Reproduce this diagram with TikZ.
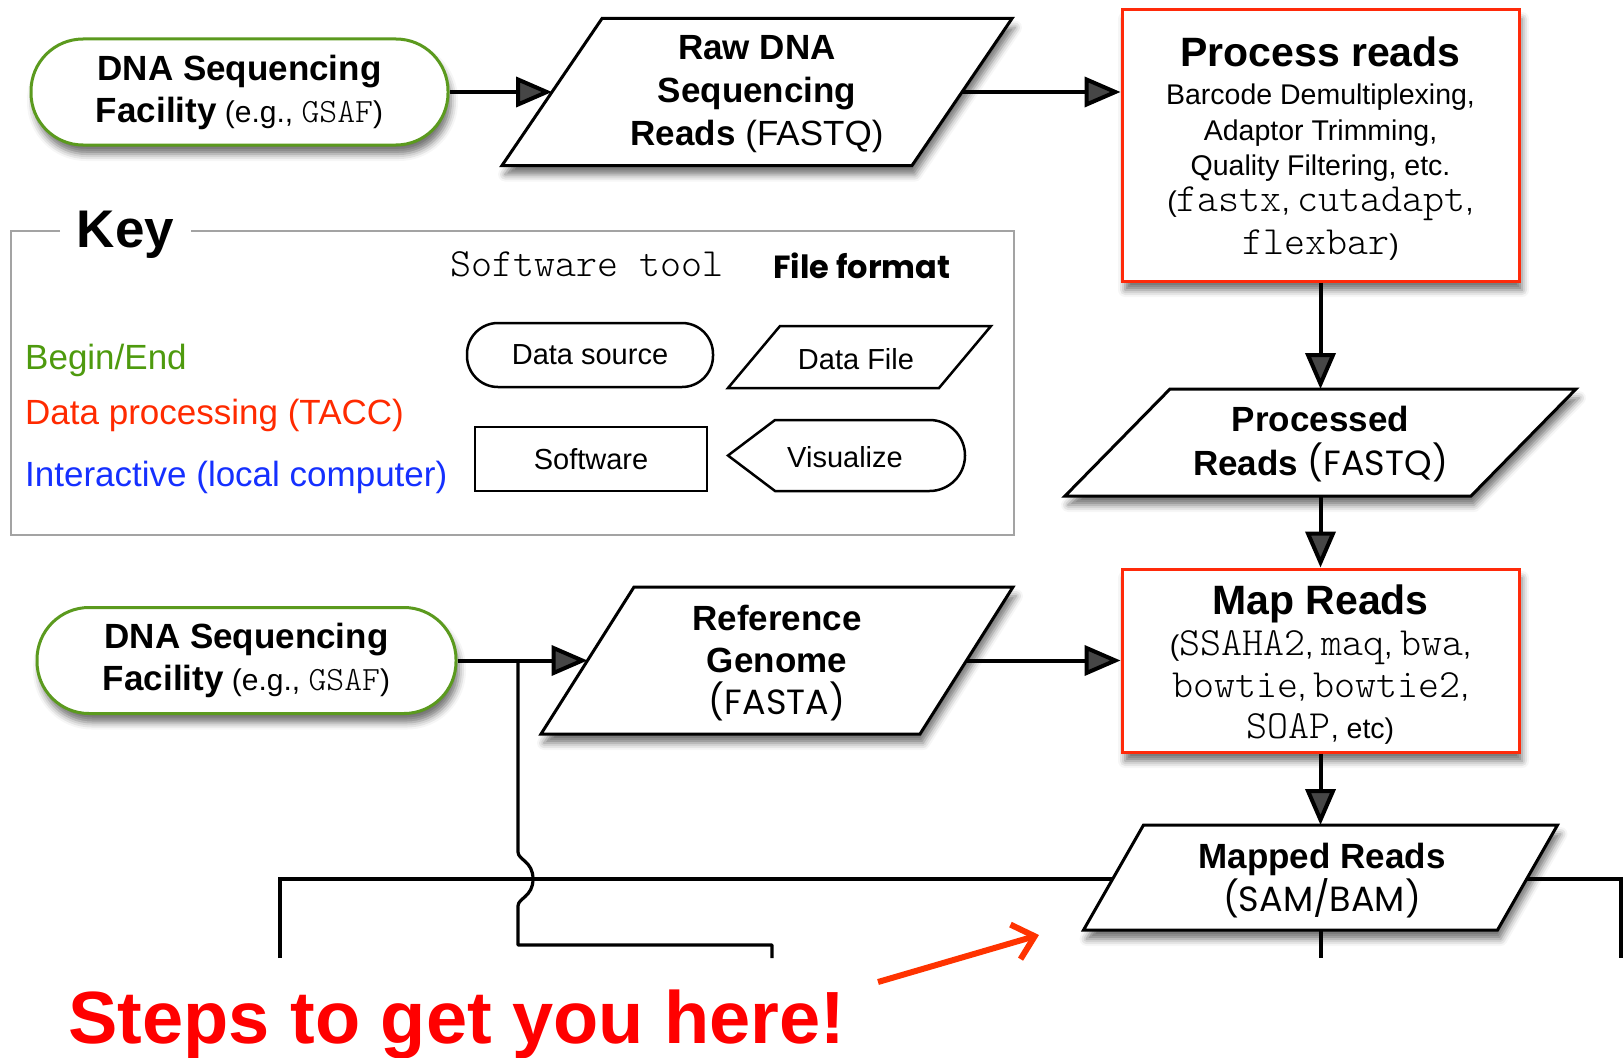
\documentclass[tikz,border=0pt]{standalone}
\usepackage{fontspec}
\setmainfont{Liberation Sans}
\newfontfamily\futura{Poppins}
\newfontfamily\cour{lmmonolt10-regular.otf}
\usetikzlibrary{arrows.meta,shadows.blur}
\definecolor{termgreen}{HTML}{5B9A1E}
\definecolor{procred}{HTML}{FF2A0A}
\definecolor{keygreen}{HTML}{4E9A0E}
\definecolor{keyred}{HTML}{FF2A00}
\definecolor{keyblue}{HTML}{1530FF}
\definecolor{keygray}{HTML}{A3A3A3}
\definecolor{stepsred}{HTML}{FF0000}
\definecolor{arrowred}{HTML}{FF3300}
\newcommand{\fs}[2]{\fontsize{#1}{#2}\selectfont}
\newcommand{\mono}[2]{{\cour\fontsize{#1}{#1}\selectfont #2}}
% #1 name, #2 style, #3 cx, #4 cy, #5 half width, #6 half height, #7 slant offset
\newcommand{\pgram}[7]{%
  \path[#2] (#3-#5+#7,#4-#6) -- (#3+#5+#7,#4-#6) -- (#3+#5-#7,#4+#6) -- (#3-#5-#7,#4+#6) -- cycle;
  \coordinate (#1-w) at (#3-#5,#4);
  \coordinate (#1-e) at (#3+#5,#4);
  \coordinate (#1-n) at (#3,#4-#6);
  \coordinate (#1-s) at (#3,#4+#6);}
\begin{document}
\begin{tikzpicture}[x=1pt,y=-1pt,
  sdw/.style={blur shadow={shadow xshift=3pt,shadow yshift=-9pt,shadow blur radius=7pt,shadow opacity=55}},
  term/.style={draw=termgreen,line width=3pt,fill=white,rectangle,rounded corners=52pt,sdw,
    minimum width=417pt,minimum height=106pt,align=center,inner sep=0pt,font=\bfseries\fs{35}{42}},
  proc/.style={draw=procred,line width=3pt,fill=white,rectangle,sdw,inner sep=0pt,minimum width=397pt},
  datashape/.style={draw=black,line width=3pt,fill=white,line join=miter,sdw},
  txt/.style={align=center,inner sep=0pt},
  conn/.style={line width=4pt,-{Triangle[length=36pt,width=30pt]}},
  wire/.style={line width=4pt},
  thinwire/.style={line width=3.2pt},
  keyshape/.style={draw=black,line width=2.5pt,fill=white,line join=miter},
  keytxt/.style={inner sep=0pt,font=\fs{29}{29}},
]
\useasboundingbox (0,0) rectangle (1624,1057);

% ---------- key box ----------
\draw[keygray,line width=2.5pt] (60,231) -- (11,231) -- (11,535) -- (1014,535) -- (1014,231) -- (191,231);
\node[anchor=base,inner sep=0pt,font=\bfseries\fs{53}{53}] (keytitle) at (125.5,247) {Key};
\node[anchor=base,inner sep=0pt,font=\cour\fs{40}{40}] (kst) at (586.5,276) {Software tool};
\node[anchor=base,inner sep=0pt,font=\futura\bfseries\fs{32}{32}] (kff) at (862,278) {File format};
\node[anchor=base west,inner sep=0pt,text=keygreen,font=\fs{35}{35}] (kbe) at (25,369) {Begin/End};
\node[anchor=base west,inner sep=0pt,text=keyred,font=\fs{35}{35}] (kdp) at (25,424) {Data processing (TACC)};
\node[anchor=base west,inner sep=0pt,text=keyblue,font=\fs{35}{35}] (kia) at (25,486) {Interactive (local computer)};

\node[keyshape,rounded corners=31pt,minimum width=246pt,minimum height=64pt,keytxt] (ksrc) at (590,355) {Data source};
\pgram{kfile}{keyshape}{859.5}{357}{105.5}{31}{26}
\node[keytxt] (kfiletxt) at (856,359) {Data File};
\node[keyshape,minimum width=232pt,minimum height=64pt,keytxt] (ksw) at (591,459) {Software};
\path[keyshape] (728,455.5) -- (775,420) -- (929.5,420) arc (-90:90:35.5) -- (775,491) -- cycle;
\node[keytxt] (kvis) at (845,457) {Visualize};

% ---------- bottom wires ----------
\coordinate (lb) at (280,958);
\coordinate (rb) at (1621,958);
\draw[wire,line join=miter] (lb) -- (280,879) -- (1621,879) -- (rb);

% ---------- top row ----------
\node[term] (t1) at (239.5,92) {DNA Sequencing\\ Facility{\mdseries\fs{30}{30} (e.g., \mono{34}{GSAF})}};
\pgram{raw}{datashape}{757}{92}{205}{73.5}{50}
\node[txt,font=\bfseries\fs{35}{43}] (rawtxt) at (757,94.5) {Raw DNA\\ Sequencing\\ Reads {\mdseries(FASTQ)}};
\node[proc,minimum height=271pt] (proc) at (1320.5,145.5) {};
\node[txt,font=\fs{28.5}{35.5}] (proctxt) at (1320.5,148.5)
  {{\bfseries\fs{41}{41}Process reads}\\[3pt] Barcode Demultiplexing,\\ Adaptor Trimming,\\ Quality Filtering, etc.\\
   (\mono{40}{fastx}, \mono{40}{cutadapt},\\[8pt] \mono{40}{flexbar})};

\draw[conn] (t1.east) -- (raw-w);
\draw[conn] (raw-e) -- (raw-e -| proc.west);

% ---------- processed reads ----------
\pgram{pr}{datashape}{1320.5}{442.5}{203}{53.5}{52.5}
\node[txt,font=\bfseries\fs{35}{44}] (prtxt) at (1320.5,444) {Processed\\ Reads {\mdseries\futura(FASTQ)}};
\draw[conn] (proc.south) -- (pr-n);

% ---------- map reads ----------
\node[proc,minimum height=183pt] (map) at (1320.5,660.5) {};
\node[txt,font=\fs{28.5}{41.5}] (maptxt) at (1320.5,664.5)
  {{\bfseries\fs{41}{41}Map Reads}\\ (\mono{40}{SSAHA2}, \mono{40}{maq}, \mono{40}{bwa},\\
   \mono{40}{bowtie}, \mono{40}{bowtie2},\\ \mono{40}{SOAP}, etc)};
\draw[conn] (pr-s) -- (map.north);

% ---------- second row ----------
\node[term,minimum width=419pt] (t2) at (246.5,660.5) {DNA Sequencing\\ Facility{\mdseries\fs{30}{30} (e.g., \mono{34}{GSAF})}};
\pgram{ref}{datashape}{777}{660.5}{189.5}{73.5}{46.5}
\node[txt,font=\bfseries\fs{35}{42}] (reftxt) at (777,663) {Reference\\ Genome\\ {\mdseries\futura(FASTA)}};
\draw[conn] (t2.east) -- (ref-w);
\draw[conn] (ref-e) -- (map.west);

% junction line with a jump over the horizontal wire
\coordinate (jtop) at (518,660.5);
\coordinate (jout) at (772,958);
\draw[thinwire,line join=round] (jtop) -- (518,852) .. controls (518,860) and (533,861) .. (533,879)
  .. controls (533,897) and (518,898) .. (518,906) -- (518,945) -- (772,945) -- (jout);

% ---------- mapped reads ----------
\pgram{mapped}{datashape}{1320.5}{877.5}{207}{52.5}{30}
\node[txt,font=\bfseries\fs{35}{43}] (mappedtxt) at (1322,881) {Mapped Reads\\ {\mdseries\futura(SAM/BAM)}};
\draw[conn] (map.south) -- (mapped-n);
\coordinate (mout) at (1320.5,958);
\draw[wire] (mapped-s) -- (mout);

% ---------- callout ----------
\node[anchor=base,inner sep=0pt,text=stepsred,font=\bfseries\fs{74}{74}] (steps) at (457,1043) {Steps to get you here!};
\coordinate (arrS) at (878,982);
\coordinate (arrE) at (1039,935);
\draw[arrowred,line width=6pt,-{Straight Barb[length=20pt,width=36pt]}] (arrS) -- (arrE);
\end{tikzpicture}
\end{document}
